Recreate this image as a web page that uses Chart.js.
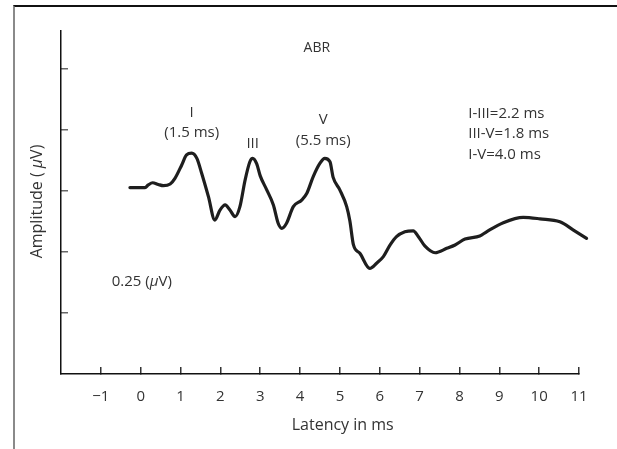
<!DOCTYPE html>
<html lang="en">
<head>
<meta charset="UTF-8">
<title>ABR</title>
<script src="https://cdn.jsdelivr.net/npm/chart.js@4"></script>
<style>
    html, body {
        margin: 0;
        padding: 0;
        background: #fff;
    }
    .frame {
        position: absolute;
        left: 13px;
        top: 5px;
        right: 0;
        bottom: 0;
        border-left: 2px solid #8a8a8a;
        border-top: 2px solid #111;
    }
    .wrap {
        position: absolute;
        left: 0;
        top: 0;
        width: 617px;
        height: 449px;
    }
</style>
</head>
<body>
<div class="frame"></div>
<div class="wrap"><canvas id="abrChart" width="617" height="449"></canvas></div>

<script>
// ABR trace (latency in ms, amplitude in µV above the axis)
const latencyMs = [
    -0.27, 0.11, 0.19, 0.30, 0.44, 0.57, 0.74, 0.86, 1.03, 1.15,
    1.28, 1.41, 1.53, 1.70, 1.86, 1.99, 2.12, 2.24, 2.37, 2.49,
    2.62, 2.74, 2.81, 2.91, 3.00, 3.16, 3.33, 3.45, 3.54, 3.66,
    3.83, 4.04, 4.17, 4.33, 4.50, 4.62, 4.75, 4.83, 5.00, 5.17,
    5.25, 5.34, 5.50, 5.75, 5.92, 6.09, 6.26, 6.42, 6.63, 6.84,
    6.97, 7.13, 7.39, 7.68, 7.89, 8.14, 8.51, 8.68, 9.10, 9.60,
    10.02, 10.52, 10.86, 11.19
];
const amplitudeUV = [
    0.764, 0.764, 0.775, 0.784, 0.777, 0.772, 0.779, 0.802, 0.857, 0.898,
    0.905, 0.884, 0.823, 0.727, 0.631, 0.672, 0.693, 0.672, 0.645, 0.686,
    0.795, 0.870, 0.884, 0.862, 0.812, 0.756, 0.693, 0.618, 0.597, 0.618,
    0.686, 0.713, 0.741, 0.809, 0.864, 0.884, 0.870, 0.806, 0.754, 0.686,
    0.627, 0.529, 0.495, 0.433, 0.454, 0.481, 0.529, 0.563, 0.583, 0.587,
    0.563, 0.525, 0.497, 0.515, 0.529, 0.553, 0.566, 0.583, 0.620, 0.642,
    0.636, 0.624, 0.590, 0.556
];

const xTicks = [-1, 0, 1, 2, 3, 4, 5, 6, 7, 8, 9, 10, 11];
const yTicks = [0.25, 0.5, 0.75, 1.0, 1.25];
const xRange = [-2, 11];
const yRange = [0, 1.406];

// annotation texts, placed in data units
const peakLabels = [
    { text: 'ABR', x: 4.42, y: 1.338 },
    { text: 'I', x: 1.28, y: 1.070 },
    { text: '(1.5 ms)', x: 1.28, y: 0.988 },
    { text: 'III', x: 2.81, y: 0.945 },
    { text: 'V', x: 4.58, y: 1.041 },
    { text: '(5.5 ms)', x: 4.58, y: 0.956 }
];
const intervalLabels = ['I-III=2.2 ms', 'III-V=1.8 ms', 'I-V=4.0 ms'];

const TEXT_COLOR = '#333';
const FONT = '"Open Sans", sans-serif';

function drawRuns(ctx, runs, x, y, size) {
    // draws mixed upright/italic text, centred on x
    let total = 0;
    runs.forEach(r => {
        ctx.font = (r.italic ? 'italic ' : '') + size + 'px ' + FONT;
        r.w = ctx.measureText(r.t).width;
        total += r.w;
    });
    let cx = x - total / 2;
    ctx.textAlign = 'left';
    runs.forEach(r => {
        ctx.font = (r.italic ? 'italic ' : '') + size + 'px ' + FONT;
        ctx.fillText(r.t, cx, y);
        cx += r.w;
    });
}

const textPlugin = {
    id: 'abrText',
    afterDraw(chart) {
        const ctx = chart.ctx;
        const xs = chart.scales.x;
        const ys = chart.scales.y;
        ctx.save();
        ctx.fillStyle = TEXT_COLOR;
        ctx.textBaseline = 'middle';

        peakLabels.forEach(l => {
            ctx.font = (l.text === 'ABR' ? 14 : 15) + 'px ' + FONT;
            ctx.textAlign = 'center';
            ctx.fillText(l.text, xs.getPixelForValue(l.x), ys.getPixelForValue(l.y));
        });

        ctx.font = '15px ' + FONT;
        ctx.textAlign = 'left';
        intervalLabels.forEach((t, i) => {
            ctx.fillText(t, xs.getPixelForValue(8.22), ys.getPixelForValue(1.068 - i * 0.084));
        });

        // scale note
        const noteRuns = [{ t: '0.25 (', italic: false }, { t: 'μ', italic: true }, { t: 'V)', italic: false }];
        drawRuns(ctx, noteRuns, xs.getPixelForValue(-0.85) + 35, ys.getPixelForValue(0.378), 15);

        // axis titles
        ctx.font = '16px ' + FONT;
        ctx.textAlign = 'center';
        ctx.fillText('Latency in ms', xs.getPixelForValue(5.07), chart.chartArea.bottom + 51);

        ctx.translate(37, (chart.chartArea.top + chart.chartArea.bottom) / 2 - 1);
        ctx.rotate(-Math.PI / 2);
        drawRuns(ctx, [{ t: 'Amplitude ( ', italic: false }, { t: 'μ', italic: true }, { t: 'V)', italic: false }], 0, 0, 16);
        ctx.restore();
    }
};

const points = latencyMs.map((x, i) => ({ x: x, y: amplitudeUV[i] }));

new Chart(document.getElementById('abrChart'), {
    type: 'line',
    data: {
        datasets: [{
            data: points,
            borderColor: '#1e1e1e',
            borderWidth: 3.2,
            pointRadius: 0,
            cubicInterpolationMode: 'monotone',
            clip: false,
            borderCapStyle: 'round',
            borderJoinStyle: 'round'
        }]
    },
    options: {
        responsive: false,
        animation: false,
        devicePixelRatio: 1,
        layout: { padding: { top: 31, right: 38, left: 0, bottom: 0 } },
        plugins: {
            legend: { display: false },
            tooltip: { enabled: false }
        },
        scales: {
            x: {
                type: 'linear',
                min: xRange[0],
                max: xRange[1],
                afterBuildTicks: s => { s.ticks = xTicks.map(v => ({ value: v })); },
                afterFit: s => { s.height = 75; },
                border: { display: true, color: '#111', width: 1.5 },
                grid: {
                    drawOnChartArea: false,
                    drawTicks: true,
                    tickLength: -7,
                    color: '#333',
                    lineWidth: 1.5
                },
                ticks: {
                    padding: 21,
                    color: TEXT_COLOR,
                    font: { family: FONT, size: 15 },
                    maxRotation: 0,
                    autoSkip: false,
                    callback: v => (v < 0 ? '\u2212' + Math.abs(v) : String(v))
                }
            },
            y: {
                min: yRange[0],
                max: yRange[1],
                afterBuildTicks: s => { s.ticks = yTicks.map(v => ({ value: v })); },
                afterFit: s => { s.width = 61; },
                border: { display: true, color: '#111', width: 1.5 },
                grid: {
                    drawOnChartArea: false,
                    drawTicks: true,
                    tickLength: -7,
                    color: '#666',
                    lineWidth: 1.5
                },
                ticks: { display: false }
            }
        }
    },
    plugins: [textPlugin]
});
</script>
</body>
</html>
